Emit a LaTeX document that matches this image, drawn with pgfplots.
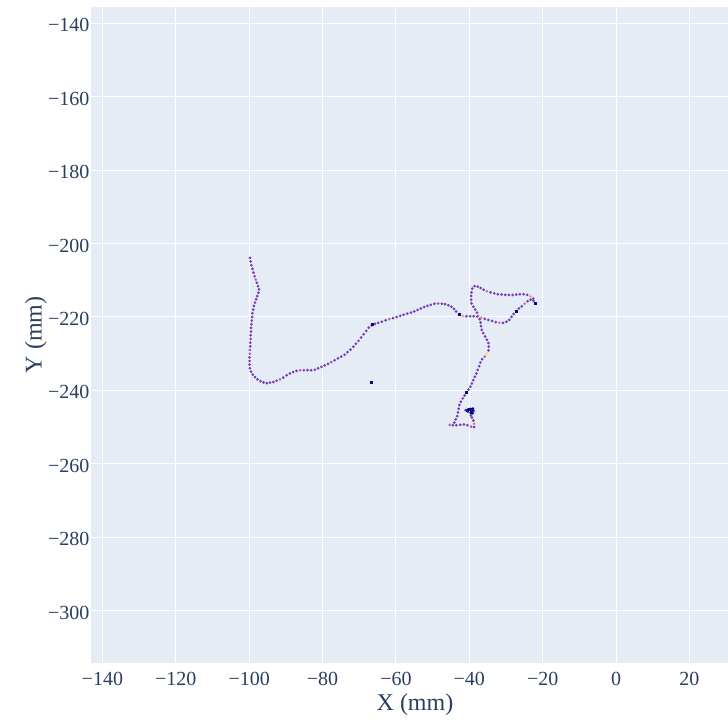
\documentclass[border=0pt]{standalone}
\usepackage{pgfplots}
\pgfplotsset{compat=1.18}
\usepackage{fontspec}
\setmainfont{Liberation Serif}

\definecolor{plotbg}{HTML}{E5ECF6}
\definecolor{plottext}{HTML}{2A3F5F}

% trajectory samples: x, y (mm) and colour value c
\pgfplotstableread{
x y c
-99.8 -203.9 0.13
-99.6 -204.9 0.13
-99.4 -205.9 0.18
-99.1 -206.9 0.13
-98.8 -207.9 0.13
-98.5 -208.9 0.25
-98.2 -209.8 0.45
-97.9 -210.7 0.13
-97.6 -211.6 0.13
-97.3 -212.5 0.18
-97.5 -213.4 0.13
-97.8 -214.3 0.13
-98.1 -215.2 0.13
-98.4 -216.1 0.22
-98.7 -217.0 0.13
-98.9 -218.0 0.13
-99.1 -219.0 0.13
-99.2 -220.0 0.13
-99.3 -221.0 0.18
-99.4 -222.0 0.13
-99.5 -223.0 0.13
-99.5 -224.0 0.13
-99.6 -225.0 0.13
-99.6 -226.0 0.25
-99.7 -227.0 0.13
-99.7 -228.0 0.13
-99.8 -229.0 0.35
-99.8 -230.0 0.40
-99.9 -231.0 0.13
-99.9 -232.0 0.18
-99.9 -233.0 0.13
-99.8 -234.0 0.13
-99.5 -234.9 0.13
-99.0 -235.7 0.18
-98.4 -236.4 0.13
-97.7 -237.0 0.13
-96.9 -237.5 0.13
-96.1 -237.8 0.13
-95.2 -238.0 0.13
-94.3 -237.9 0.18
-93.4 -237.7 0.13
-92.5 -237.4 0.25
-91.6 -237.0 0.45
-90.7 -236.5 0.13
-89.8 -235.9 0.13
-88.9 -235.4 0.13
-88.0 -235.0 0.18
-87.1 -234.7 0.13
-86.1 -234.5 0.40
-85.1 -234.5 0.25
-84.1 -234.5 0.13
-83.1 -234.5 0.13
-82.1 -234.4 0.18
-81.2 -234.0 0.13
-80.3 -233.6 0.13
-79.4 -233.2 0.13
-78.5 -232.8 0.13
-77.6 -232.3 0.35
-76.7 -231.8 0.13
-75.8 -231.3 0.13
-74.9 -230.8 0.13
-74.0 -230.3 0.18
-73.2 -229.6 0.13
-72.4 -228.9 0.13
-71.6 -228.1 0.13
-70.9 -227.3 0.13
-70.2 -226.5 0.25
-69.5 -225.6 0.13
-68.8 -224.7 0.13
-68.1 -223.8 0.18
-67.4 -222.9 0.13
-66.6 -222.3 0.13
-65.7 -221.9 0.13
-64.8 -221.6 0.18
-63.8 -221.3 0.13
-62.8 -220.9 0.13
-61.8 -220.6 0.45
-60.8 -220.3 0.13
-59.8 -220.0 0.13
-58.8 -219.7 0.13
-57.9 -219.4 0.13
-56.9 -219.1 0.18
-55.9 -218.8 0.13
-55.0 -218.5 0.13
-54.1 -218.1 0.13
-53.2 -217.7 0.13
-52.3 -217.3 0.13
-51.4 -217.0 0.18
-50.5 -216.7 0.13
-49.5 -216.4 0.13
-48.5 -216.3 0.35
-47.5 -216.4 0.13
-46.6 -216.5 0.13
-45.7 -216.8 0.13
-44.9 -217.2 0.18
-44.2 -217.8 0.13
-43.6 -218.5 0.13
-42.8 -219.2 0.08
-41.8 -219.7 0.70
-40.8 -219.8 0.13
-39.8 -219.8 0.13
-38.8 -219.8 0.13
-37.8 -219.9 0.18
-36.8 -220.2 0.60
-35.8 -220.5 0.13
-34.8 -220.8 0.13
-33.8 -221.1 0.13
-32.8 -221.4 0.18
-31.8 -221.6 0.55
-30.8 -221.6 0.13
-29.9 -221.3 0.13
-29.1 -220.8 0.13
-28.5 -220.0 0.13
-27.9 -219.2 0.08
-27.2 -218.4 0.05
-26.5 -217.7 0.13
-25.7 -217.1 0.13
-24.9 -216.4 0.50
-24.1 -215.7 0.13
-23.3 -215.3 0.13
-22.5 -215.6 0.13
-22.0 -216.3 0.05
-22.6 -215.0 0.13
-23.3 -214.4 0.70
-24.2 -214.0 0.13
-25.2 -213.8 0.13
-26.2 -213.8 0.13
-27.2 -213.9 0.13
-28.2 -214.0 0.18
-29.2 -214.0 0.13
-30.2 -214.0 0.13
-31.2 -213.9 0.13
-32.2 -213.8 0.13
-33.2 -213.6 0.18
-34.2 -213.3 0.13
-35.2 -213.0 0.50
-36.1 -212.6 0.13
-36.9 -212.1 0.13
-37.7 -211.7 0.13
-38.6 -211.6 0.18
-39.2 -212.3 0.13
-39.4 -213.3 0.13
-39.5 -214.3 0.13
-39.5 -215.3 0.13
-39.4 -216.3 0.13
-38.9 -217.2 0.13
-38.4 -218.0 0.18
-37.9 -218.8 0.13
-37.6 -219.7 0.55
-37.2 -220.6 0.13
-36.9 -221.5 0.13
-36.8 -222.5 0.13
-36.6 -223.5 0.13
-36.2 -224.4 0.18
-35.7 -225.3 0.13
-35.2 -226.2 0.13
-34.8 -227.1 0.13
-34.7 -228.1 0.13
-34.8 -229.1 0.18
-35.2 -230.0 0.95
-35.8 -230.8 0.40
-36.5 -231.5 0.13
-37.0 -232.4 0.25
-37.3 -233.4 0.13
-37.7 -234.4 0.13
-38.1 -235.4 0.13
-38.5 -236.3 0.13
-38.9 -237.2 0.18
-39.3 -238.1 0.13
-39.7 -239.0 0.13
-40.2 -239.8 0.08
-40.8 -240.6 0.03
-41.3 -241.4 0.13
-41.8 -242.2 0.25
-42.3 -243.1 0.13
-42.7 -244.0 0.13
-42.9 -245.0 0.13
-43.1 -246.0 0.18
-43.3 -247.0 0.13
-43.7 -247.9 0.13
-44.1 -248.8 0.13
-44.5 -249.5 0.13
-45.3 -249.4 0.40
-43.5 -249.5 0.13
-42.5 -249.4 0.13
-41.5 -249.3 0.18
-40.5 -249.5 0.13
-39.5 -249.9 0.35
-38.7 -250.0 0.13
-38.7 -249.1 0.55
-38.9 -248.2 0.13
-39.3 -247.4 0.13
-39.6 -246.8 0.18
-39.2 -246.3 0.05
-38.8 -245.6 0.05
-39.0 -244.9 0.05
-39.7 -245.0 0.03
-40.4 -245.2 0.03
-41.0 -245.4 0.05
-40.4 -245.8 0.03
-39.7 -246.1 0.03
-39.0 -246.2 0.05
}\trajectory

% stationary samples, drawn a little larger
\pgfplotstableread{
x y c
-42.6 -219.3 0.0
-27.2 -218.4 0.0
-22.0 -216.3 0.0
-40.8 -240.6 0.0
-66.3 -222.0 0.0
-66.7 -237.8 0.0
-40.0 -245.3 0.0
-39.5 -245.6 0.0
-40.5 -245.4 0.0
-39.2 -245.2 0.0
-39.3 -245.9 0.0
}\stationary

\begin{document}
\begin{tikzpicture}
\begin{axis}[
  scale only axis,
  width=648pt, height=655.5pt,
  xmin=-143.1, xmax=33.5,
  ymin=-314.2, ymax=-135.6,
  axis background/.style={fill=plotbg},
  axis line style={draw=none},
  major tick length=0pt,
  grid=major,
  major grid style={white, line width=1pt},
  xtick={-140,-120,-100,-80,-60,-40,-20,0,20},
  xticklabels={−140,−120,−100,−80,−60,−40,−20,0,20},
  ytick={-300,-280,-260,-240,-220,-200,-180,-160,-140},
  yticklabels={−300,−280,−260,−240,−220,−200,−180,−160,−140},
  ticklabel style={font=\fontsize{20}{22}\selectfont, text=plottext, inner sep=0pt},
  xticklabel style={anchor=north, yshift=-9pt},
  yticklabel style={anchor=east, xshift=-1.5pt, yshift=-2pt},
  xlabel={X (mm)},
  ylabel={Y (mm)},
  label style={font=\fontsize{24}{26}\selectfont, text=plottext, inner sep=0pt},
  xlabel style={at={(axis description cs:0.5,0)}, anchor=base, yshift=-47.3pt},
  ylabel style={at={(axis description cs:0,0.5)}, anchor=south, yshift=44pt},
  colormap={plasma}{rgb255=(13,8,135) rgb255=(70,3,159) rgb255=(114,1,168)
    rgb255=(156,23,158) rgb255=(189,55,134) rgb255=(216,87,107)
    rgb255=(237,121,83) rgb255=(251,159,58) rgb255=(253,202,38)
    rgb255=(240,249,33)},
  point meta min=0, point meta max=1,
]
\addplot[scatter, only marks, mark=*, mark size=1.5pt,
  scatter src=explicit,
  scatter/use mapped color={draw opacity=0, fill=mapped color, fill opacity=0.75}]
  table[x=x, y=y, meta=c] {\trajectory};
\addplot[scatter, only marks, mark=square*, mark size=1.5pt,
  scatter src=explicit,
  scatter/use mapped color={draw opacity=0, fill=mapped color}]
  table[x=x, y=y, meta=c] {\stationary};
\end{axis}
\pgfresetboundingbox
\path[use as bounding box] (-91pt,-58.3pt) rectangle (637pt,662.7pt);
\end{tikzpicture}
\end{document}
